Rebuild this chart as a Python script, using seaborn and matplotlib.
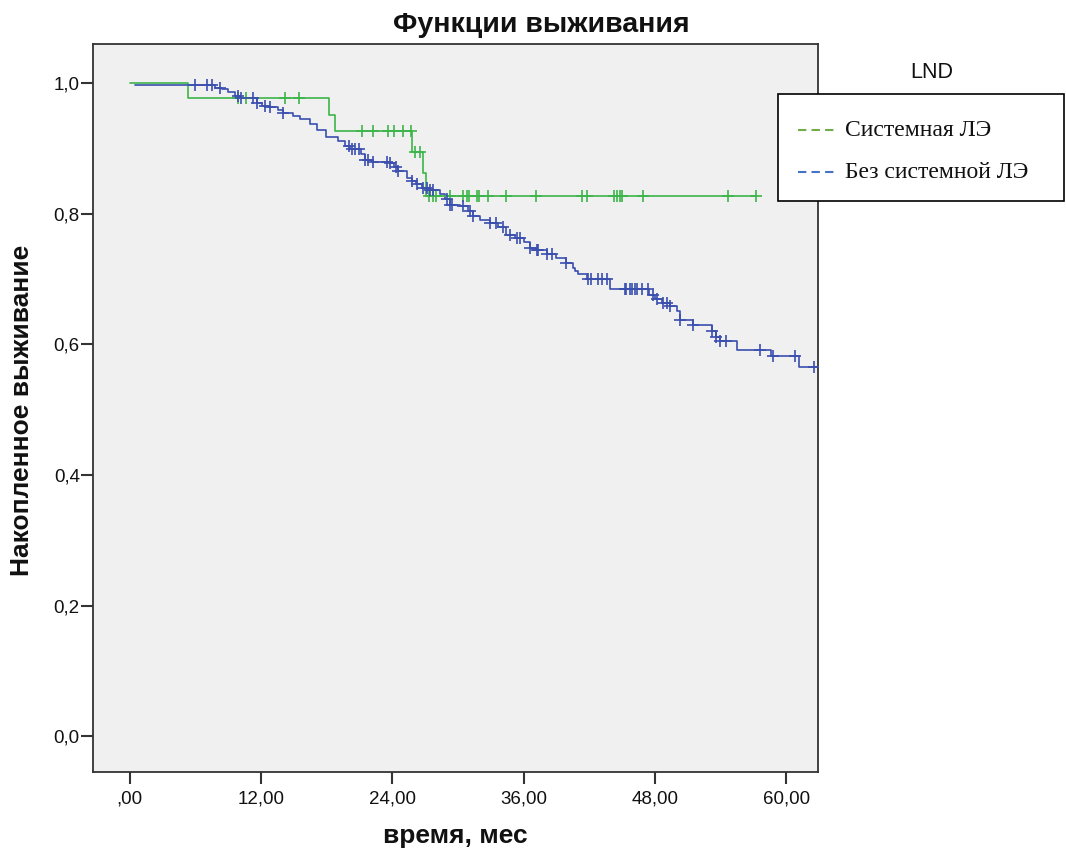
import numpy as np
import pandas as pd
import matplotlib
matplotlib.use("Agg")
import matplotlib.pyplot as plt
from matplotlib.lines import Line2D
from matplotlib.patches import Rectangle
import seaborn as sns

# ---------------- data ----------------
group_names = ["Системная ЛЭ", "Без системной ЛЭ"]

green_event_times = [0.0, 5.3, 18.2, 18.8, 25.8, 26.8, 27.1]
green_survival = [1.0, 0.977, 0.951, 0.926, 0.895, 0.862, 0.827]
green_censor_times = [9.9, 10.6, 14.2, 15.5, 21.2, 22.2, 23.6, 24.2, 25.0, 25.7,
                      26.1, 26.5, 27.35, 27.75, 28.0, 29.3, 30.5, 30.8, 31.0, 31.7,
                      31.95, 32.7, 34.4, 37.1, 41.3, 41.75, 44.3, 44.5, 44.8, 45.0,
                      46.9, 54.7, 57.2]
green_end = 57.2

blue_event_times = [0.5, 7.8, 8.4, 9.0, 9.6, 10.1, 11.6, 12.1, 12.6, 13.6, 14.0,
                    14.9, 15.6, 16.5, 17.1, 17.9, 19.0, 19.7, 20.1, 21.1, 21.5,
                    22.1, 23.8, 24.2, 24.5, 25.3, 25.8, 26.2, 26.7, 27.4, 28.4,
                    28.8, 29.3, 30.2, 30.9, 31.4, 32.0, 32.9, 33.7, 34.4, 35.2,
                    36.0, 36.6, 37.2, 38.1, 39.0, 39.9, 40.5, 40.7, 41.0, 41.8,
                    43.9, 47.5, 48.0, 48.6, 49.4, 50.0, 50.3, 51.5, 53.2, 53.6,
                    53.9, 55.5, 58.6, 61.2]
blue_survival = [0.997, 0.993, 0.991, 0.986, 0.981, 0.977, 0.970, 0.965, 0.963, 0.959, 0.955,
                 0.950, 0.945, 0.937, 0.929, 0.917, 0.912, 0.904, 0.899, 0.891, 0.883,
                 0.880, 0.877, 0.871, 0.865, 0.855, 0.850, 0.845, 0.840, 0.837, 0.830,
                 0.822, 0.814, 0.812, 0.804, 0.796, 0.791, 0.786, 0.779, 0.768, 0.763,
                 0.756, 0.748, 0.745, 0.738, 0.733, 0.725, 0.717, 0.712, 0.707, 0.700,
                 0.684, 0.676, 0.669, 0.664, 0.658, 0.651, 0.638, 0.630, 0.620, 0.612,
                 0.605, 0.592, 0.582, 0.566]
blue_censor_times = [6.0, 7.1, 7.5, 8.3, 9.9, 10.2, 11.3, 11.6, 12.4, 12.8, 14.0,
                     20.0, 20.3, 20.6, 21.0, 21.5, 21.8, 22.2, 23.5, 23.8, 24.3, 24.5,
                     25.8, 26.3, 26.8, 27.2, 27.4, 27.7, 29.0, 29.3, 29.5, 30.5, 31.1,
                     31.4, 32.9, 33.5, 34.1, 34.8, 35.4, 35.7, 36.6, 37.2, 37.3, 38.1,
                     38.6, 39.9, 41.9, 42.2, 42.8, 43.2, 43.6, 45.3, 45.4, 45.7, 45.9,
                     46.2, 46.4, 46.8, 47.4, 47.8, 48.2, 48.7, 49.1, 49.4, 50.3, 51.5,
                     53.2, 53.6, 53.9, 54.5, 57.6, 58.8, 60.8, 62.5]
blue_end = 63.0

x_ticks = [0, 12, 24, 36, 48, 60]
x_tick_labels = [",00", "12,00", "24,00", "36,00", "48,00", "60,00"]
y_ticks = [0.0, 0.2, 0.4, 0.6, 0.8, 1.0]
y_tick_labels = ["0,0", "0,2", "0,4", "0,6", "0,8", "1,0"]

# ---------------- style ----------------
sns.set_theme(style="ticks")
plt.rcParams["font.family"] = ["Liberation Sans", "DejaVu Sans"]

GREEN = "#3DB54A"
BLUE = "#3B4FAE"
GREEN_LEG = "#70AD47"
BLUE_LEG = "#4472C4"
SPINE = "#333333"

W, H = 1066, 849
fig = plt.figure(figsize=(W / 100, H / 100), dpi=100)
ax = fig.add_axes([93 / W, 1 - 772 / H, (818 - 93) / W, (772 - 44) / H])
ax.set_facecolor("#F0F0F0")


def step_frame(times, surv, end):
    xs = list(times) + [end]
    ys = list(surv) + [surv[-1]]
    return pd.DataFrame({"t": xs, "s": ys})


def censor_frame(times, ev_times, surv):
    ev = np.asarray(ev_times)
    sv = np.asarray(surv)
    idx = np.searchsorted(ev, np.asarray(times), side="right") - 1
    idx = np.clip(idx, 0, len(sv) - 1)
    return pd.DataFrame({"t": times, "s": sv[idx]})


for ev, sv, cens, end, col in [
    (green_event_times, green_survival, green_censor_times, green_end, GREEN),
    (blue_event_times, blue_survival, blue_censor_times, blue_end, BLUE),
]:
    df = step_frame(ev, sv, end)
    sns.lineplot(data=df, x="t", y="s", ax=ax, color=col, lw=1.2,
                 drawstyle="steps-post", sort=False, estimator=None, legend=False)
    cf = censor_frame(cens, ev, sv)
    sns.scatterplot(data=cf, x="t", y="s", ax=ax, marker="+", color=col,
                    s=80, linewidth=1.2, legend=False, zorder=3)

ax.set_xlim(-3.35, 62.9)
ax.set_ylim(-0.055, 1.06)
ax.set_xticks(x_ticks)
ax.set_xticklabels(x_tick_labels)
ax.set_yticks(y_ticks)
ax.set_yticklabels(y_tick_labels)
ax.tick_params(axis="both", direction="out", length=8.5, width=1.5, color=SPINE,
               labelsize=13.5, labelcolor="#111111")
ax.tick_params(axis="x", pad=5)
ax.tick_params(axis="y", pad=1)
for sp in ax.spines.values():
    sp.set_visible(True)
    sp.set_color(SPINE)
    sp.set_linewidth(1.3)
ax.set_xlabel("")
ax.set_ylabel("")

# titles / labels
fig.text(541 / W, 1 - 25 / H, "Функции выживания", ha="center", va="center",
         fontsize=20.5, fontweight="bold", color="#111111")
fig.text(455 / W, 1 - 836 / H, "время, мес", ha="center", va="center",
         fontsize=19, fontweight="bold", color="#111111")
fig.text(22 / W, 1 - 410 / H, "Накопленное выживание", ha="center", va="center",
         rotation=90, fontsize=19, fontweight="bold", color="#111111")

# legend
fig.text(932 / W, 1 - 72 / H, "LND", ha="center", va="center", fontsize=15.5,
         color="#111111")
fig.patches.append(Rectangle((778 / W, 1 - 201 / H), (1064 - 778) / W, (201 - 94) / H,
                             transform=fig.transFigure, facecolor="white",
                             edgecolor="black", linewidth=1.2))
for yy, lab, col in [(130, group_names[0], GREEN_LEG), (172, group_names[1], BLUE_LEG)]:
    fig.add_artist(Line2D([798 / W, 834 / W], [1 - yy / H, 1 - yy / H],
                          transform=fig.transFigure, color=col, lw=1.5,
                          linestyle=(0, (4, 2.5))))
    fig.text(845 / W, 1 - yy / H, lab, ha="left", va="center", fontsize=17,
             family=["Liberation Serif", "DejaVu Serif"], color="#111111")

fig.savefig("out.png", dpi=100, facecolor="white")
